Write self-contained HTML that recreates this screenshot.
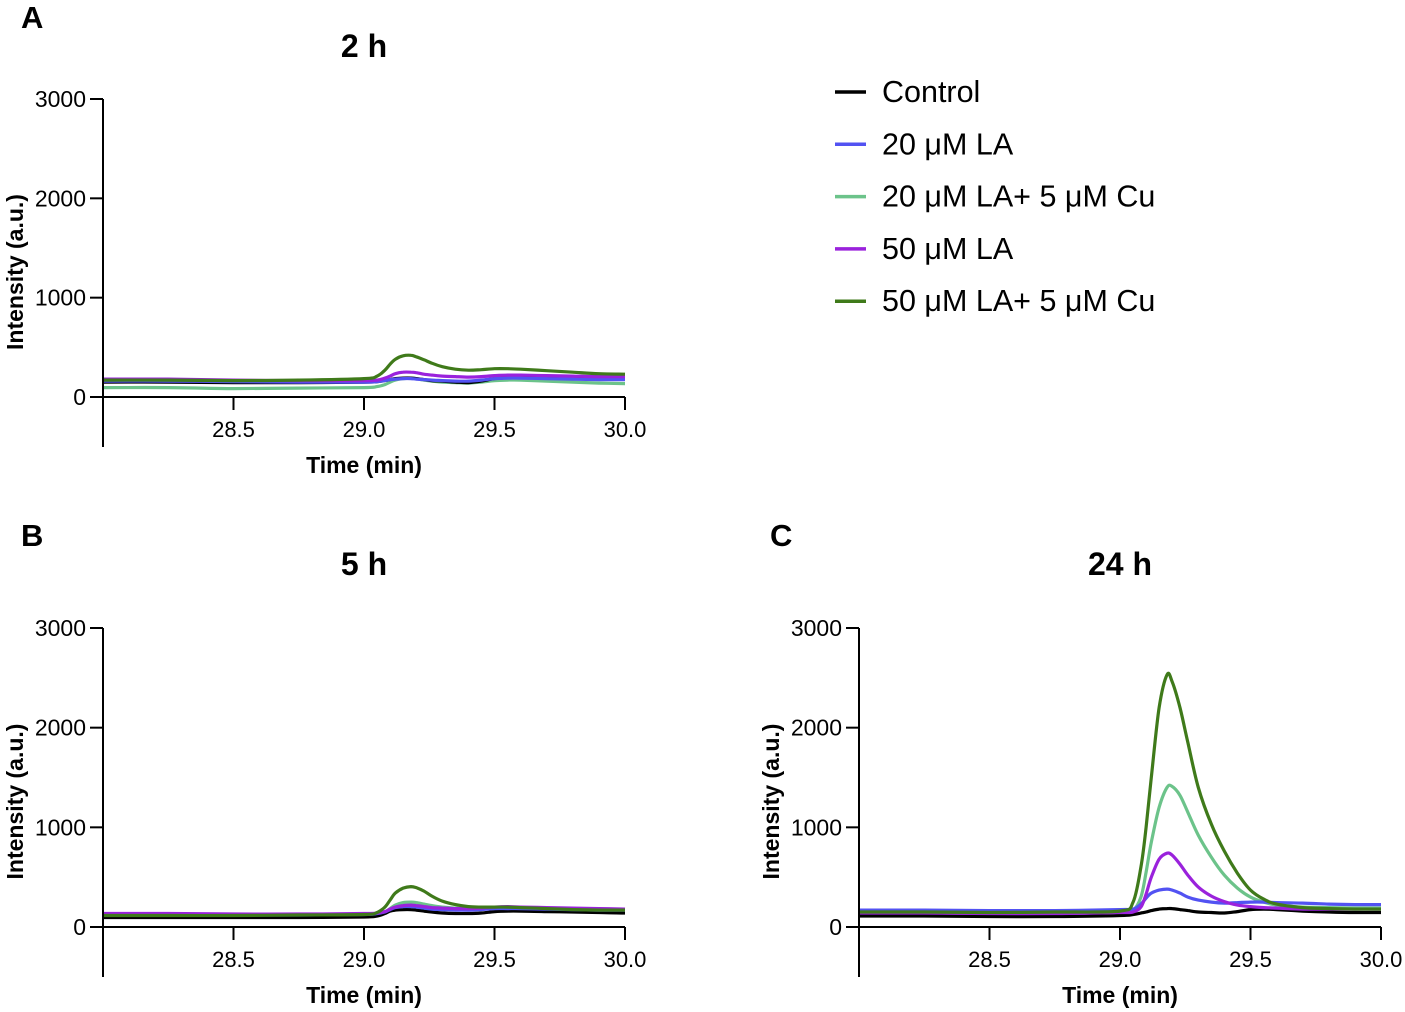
<!DOCTYPE html>
<html><head><meta charset="utf-8"><style>
html,body{margin:0;padding:0;background:#fff;}
svg{display:block;font-family:"Liberation Sans",Arial,sans-serif;}
</style></head><body>
<svg id="fig" width="1405" height="1012" viewBox="0 0 1405 1012">
<g id="legend"></g>
</svg>
<script>
const seriesNames=["Control","20 μM LA","20 μM LA+ 5 μM Cu","50 μM LA","50 μM LA+ 5 μM Cu"];
const seriesColors=["#000000","#5252f2","#6cc38a","#9a22dc","#3f7a1a"];
const xTicks=[28.5,29.0,29.5,30.0];
const yTicks=[0,1000,2000,3000];
const times=[28.0,28.25,28.5,28.75,29.0,29.05,29.08,29.1,29.12,29.15,29.18,29.2,29.23,29.26,29.3,29.35,29.4,29.45,29.5,29.55,29.6,29.7,29.8,29.9,30.0];
// Panel A (2 h)
const a_control=[150,150,145,145,150,155,165,175,185,190,190,185,175,165,160,150,145,160,185,195,195,190,185,180,180];
const a_la20=[160,160,155,150,150,155,165,175,180,185,185,180,175,170,165,160,160,170,185,190,190,185,180,175,175];
const a_la20cu=[95,95,85,90,95,105,125,150,170,185,190,185,170,160,150,145,140,150,165,170,170,160,150,140,135];
const a_la50=[180,180,170,165,165,170,190,210,235,250,250,245,230,220,210,205,200,205,215,220,220,215,210,205,205];
const a_la50cu=[170,170,165,170,185,210,270,330,380,415,420,405,375,340,305,280,270,275,285,285,280,265,250,235,230];
// Panel B (5 h)
const b_control=[95,95,95,95,100,110,135,160,170,175,175,170,160,150,140,135,135,140,155,160,160,155,150,145,140];
const b_la20=[120,120,120,120,125,135,150,175,195,205,205,200,190,180,175,170,170,175,185,185,185,180,175,170,170];
const b_la20cu=[110,110,110,110,115,125,150,185,220,245,250,245,230,215,200,190,185,185,190,190,185,180,175,170,165];
const b_la50=[135,135,130,130,135,140,155,180,200,215,220,215,205,195,190,185,185,190,200,205,200,195,190,185,180];
const b_la50cu=[115,115,115,120,125,145,200,270,340,390,405,395,360,310,260,225,205,200,200,200,195,185,175,170,170];
// Panel C (24 h)
const c_control=[110,110,105,105,115,125,140,150,165,180,185,185,175,165,150,145,140,155,175,180,175,160,150,145,145];
const c_la20=[170,170,165,165,175,180,230,290,340,370,380,370,340,300,270,250,240,245,250,250,245,240,230,225,225];
const c_la20cu=[150,150,145,150,160,170,300,550,850,1200,1400,1410,1320,1150,920,700,520,390,300,250,220,200,195,190,190];
const c_la50=[140,140,135,135,145,150,200,330,500,680,740,720,630,520,400,310,255,220,205,195,190,180,180,180,180];
const c_la50cu=[150,150,145,150,160,250,600,1000,1500,2200,2530,2460,2200,1850,1400,1030,760,540,370,280,230,195,185,180,180];

const panels=[
 {id:"a",letter:"A",title:"2 h",x0:103,x1:625,y0:397,y3:99,lx:21,ly:28,data:[a_control,a_la20,a_la20cu,a_la50,a_la50cu]},
 {id:"b",letter:"B",title:"5 h",x0:103,x1:625,y0:927,y3:628,lx:21,ly:546,data:[b_control,b_la20,b_la20cu,b_la50,b_la50cu]},
 {id:"c",letter:"C",title:"24 h",x0:859,x1:1381,y0:927,y3:628,lx:770,ly:546,data:[c_control,c_la20,c_la20cu,c_la50,c_la50cu]}
];
const NS="http://www.w3.org/2000/svg";
const svg=document.getElementById("fig");
function mk(tag,attrs,parent){const e=document.createElementNS(NS,tag);for(const k in attrs)e.setAttribute(k,attrs[k]);parent.appendChild(e);return e;}
function path(pts){
 let d="M"+pts[0][0].toFixed(1)+","+pts[0][1].toFixed(1);
 for(let i=0;i<pts.length-1;i++){
  const p0=pts[Math.max(0,i-1)],p1=pts[i],p2=pts[i+1],p3=pts[Math.min(pts.length-1,i+2)];
  const c1=[p1[0]+(p2[0]-p0[0])/6,p1[1]+(p2[1]-p0[1])/6];
  const c2=[p2[0]-(p3[0]-p1[0])/6,p2[1]-(p3[1]-p1[1])/6];
  d+="C"+c1[0].toFixed(1)+","+c1[1].toFixed(1)+" "+c2[0].toFixed(1)+","+c2[1].toFixed(1)+" "+p2[0].toFixed(1)+","+p2[1].toFixed(1);
 }
 return d;
}
panels.forEach(p=>{
 const xS=t=>p.x0+(t-28)/2*(p.x1-p.x0);
 const yS=v=>p.y0-v/3000*(p.y0-p.y3);
 const g=mk("g",{},svg);
 
 
 const L=mk("text",{x:p.lx,y:p.ly,"font-size":31,"font-weight":"bold"},g);L.textContent=p.letter;
 
 
 const T=mk("text",{x:(p.x0+p.x1)/2,y:p.ly+29,"font-size":32,"font-weight":"bold","text-anchor":"middle"},g);T.textContent=p.title;
 
 
 const sg=mk("g",{fill:"none","stroke-width":3.2,"stroke-linejoin":"round"},g);
 
 
 const order=[2,0,1,3,4];
 order.forEach(si=>{
  const pts=times.map((t,i)=>[xS(t),yS(p.data[si][i])]);
  const e=mk("path",{d:path(pts),stroke:seriesColors[si]},sg);
  
  
 });
 const ax=mk("g",{stroke:"#000","stroke-width":2,fill:"none"},g);
 
 
 mk("line",{x1:p.x0,y1:p.y3,x2:p.x0,y2:p.y0+50},ax);
 mk("line",{x1:p.x0,y1:p.y0,x2:p.x1,y2:p.y0},ax);
 yTicks.forEach(v=>{
  mk("line",{x1:p.x0-13,y1:yS(v),x2:p.x0,y2:yS(v)},ax);
  const t=mk("text",{x:p.x0-17,y:yS(v)+8,"font-size":23,"text-anchor":"end"},g);t.textContent=v;
  
  
 });
 xTicks.forEach(v=>{
  mk("line",{x1:xS(v),y1:p.y0,x2:xS(v),y2:p.y0+13},ax);
  const t=mk("text",{x:xS(v),y:p.y0+40,"font-size":22,"text-anchor":"middle"},g);t.textContent=v.toFixed(1);
  
  
 });
 const xt=mk("text",{x:(p.x0+p.x1)/2,y:p.y0+76,"font-size":23,"font-weight":"bold","text-anchor":"middle"},g);xt.textContent="Time (min)";
 
 
 const cy=(p.y0+p.y3)/2+24;
 const yt=mk("text",{x:0,y:0,"font-size":23,"font-weight":"bold","text-anchor":"middle",transform:"translate("+(p.x0-80)+","+cy+") rotate(-90)"},g);yt.textContent="Intensity (a.u.)";
 
 
});
const lg=document.getElementById("legend");
seriesNames.forEach((n,i)=>{
 const y=92+i*52.3;
 const e=mk("line",{x1:835,y1:y,x2:866,y2:y,stroke:seriesColors[i],"stroke-width":3.5},lg);
 
 
 const t=mk("text",{x:882,y:y+10,"font-size":30.5},lg);t.textContent=n;
 
 
});
</script>
</body></html>
